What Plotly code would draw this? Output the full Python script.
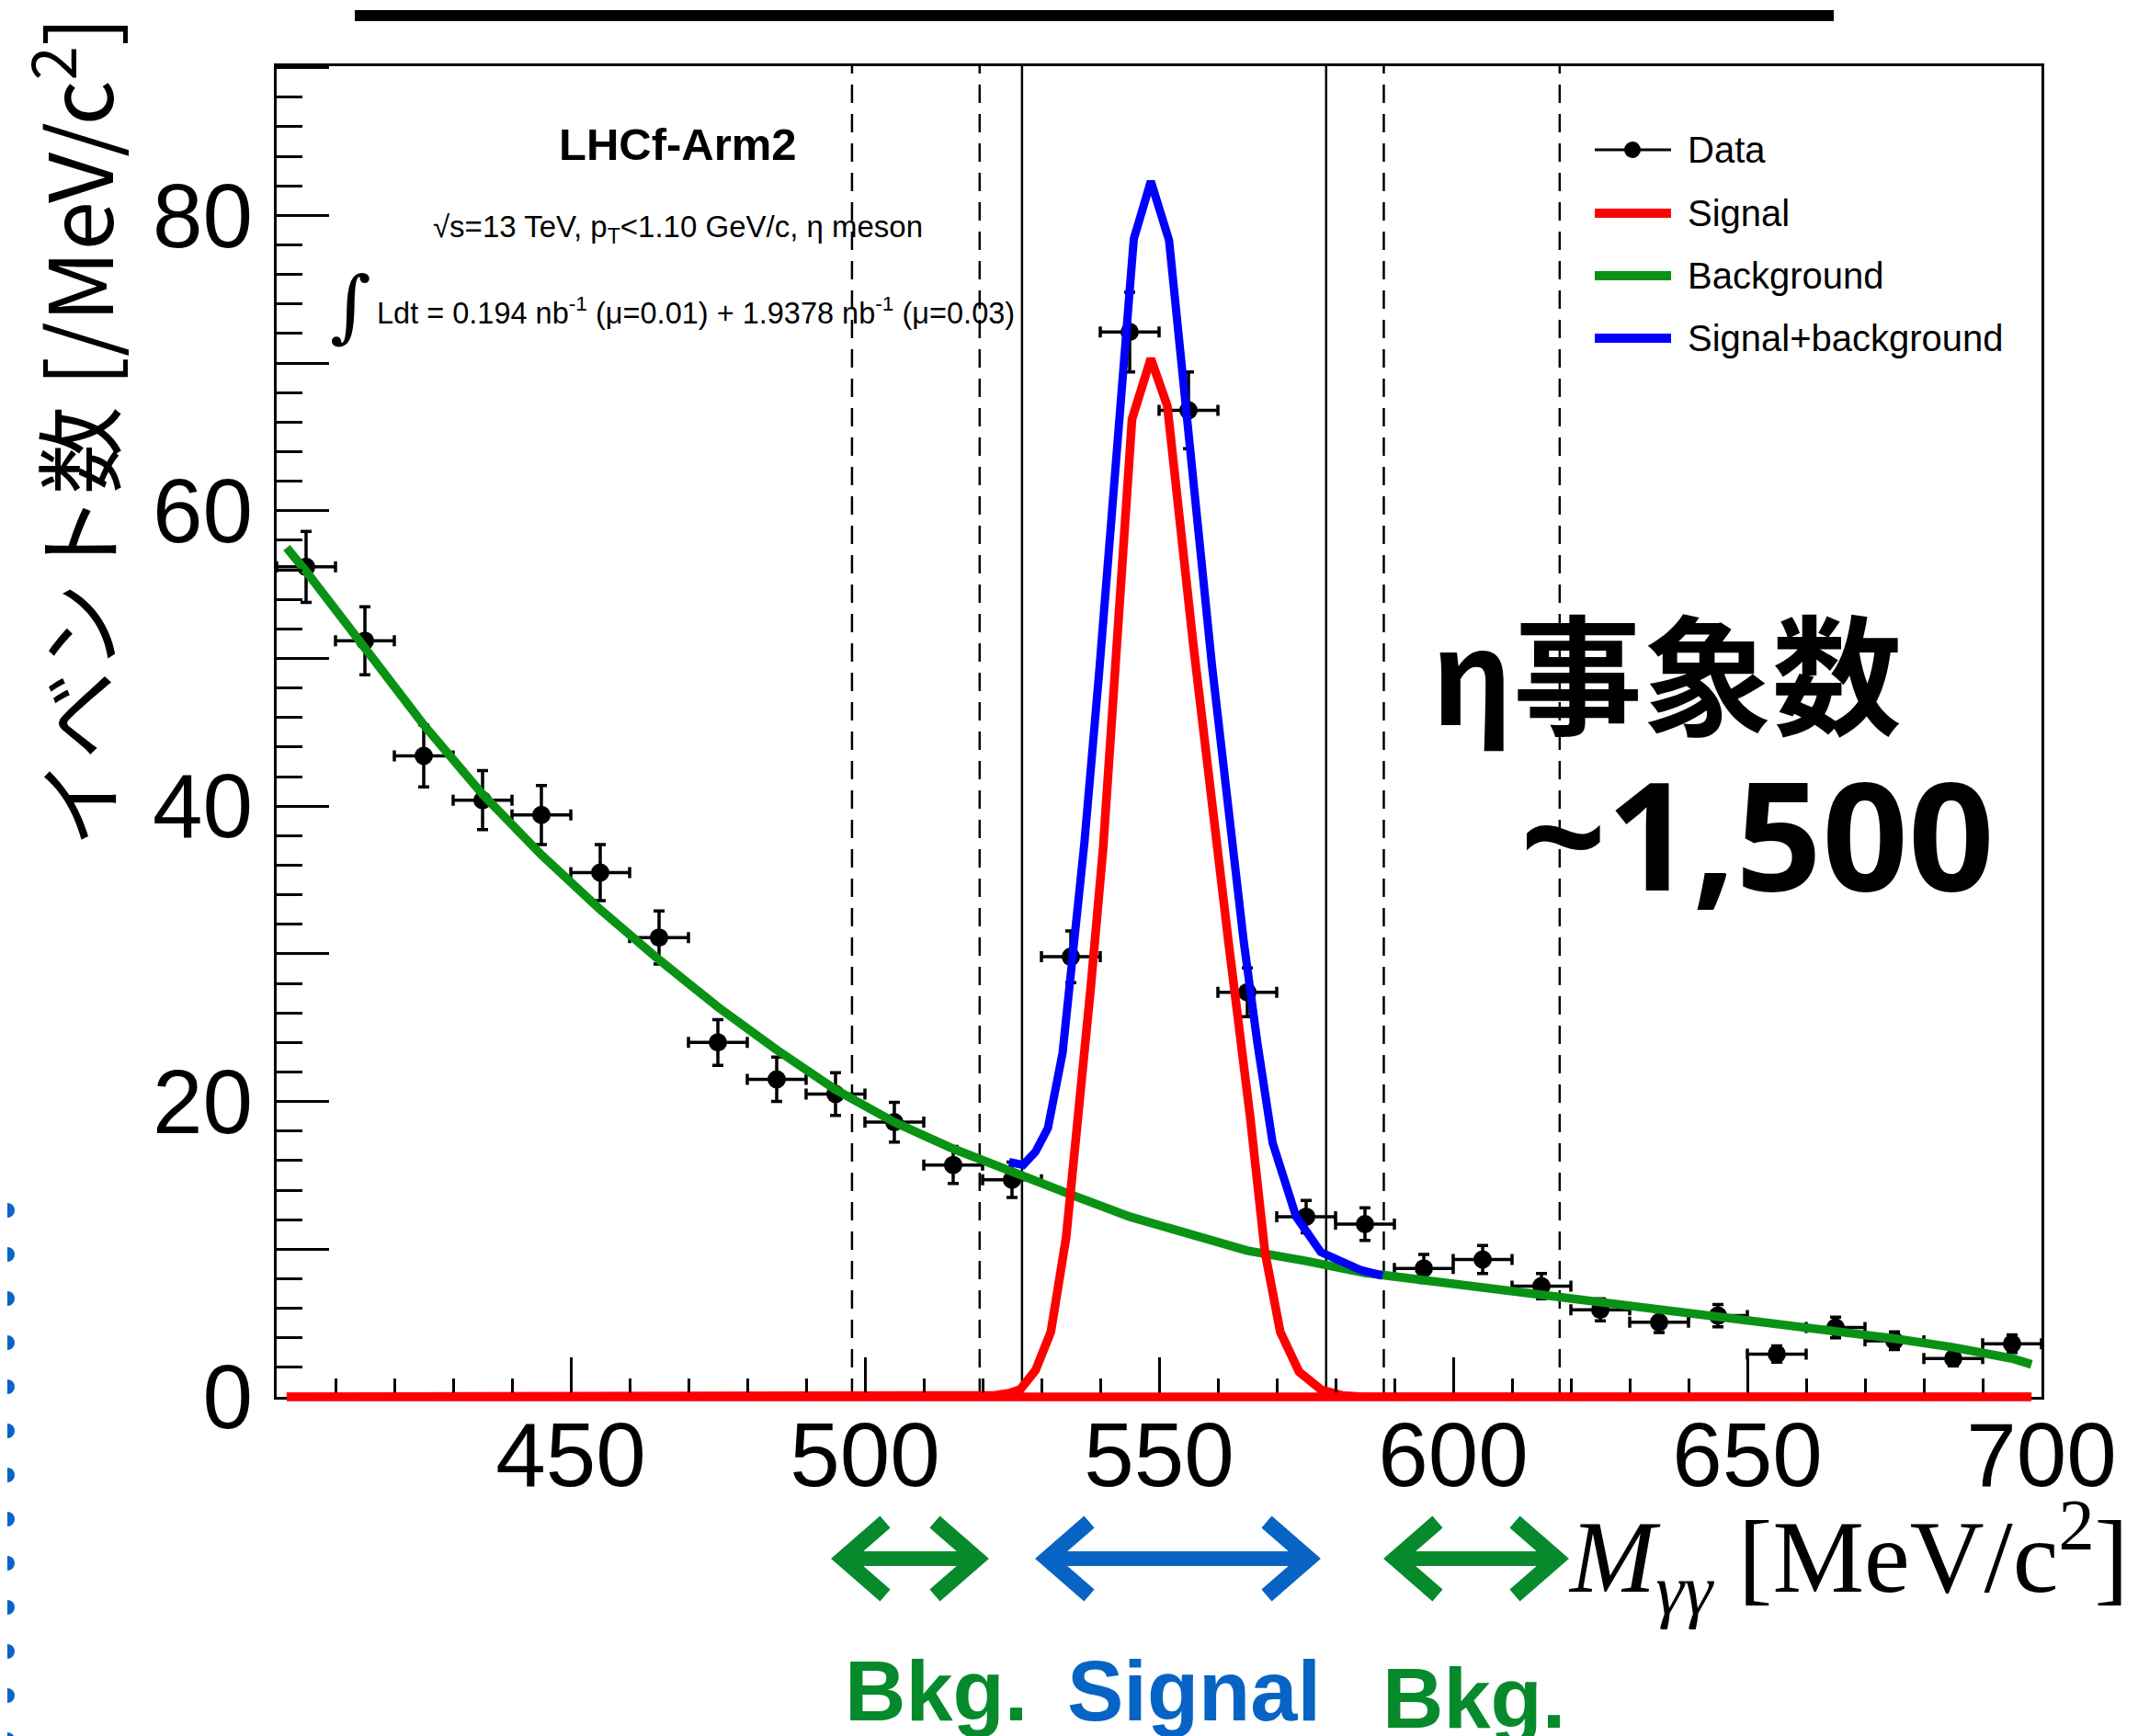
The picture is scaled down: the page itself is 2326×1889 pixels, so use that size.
import plotly.graph_objects as go

# ---------------- data ----------------
bin_centers = [405, 415, 425, 435, 445, 455, 465, 475, 485, 495,
               505, 515, 525, 535, 545, 555, 565, 575, 585, 595,
               605, 615, 625, 635, 645, 655, 665, 675, 685, 695]
counts = [56.2, 51.2, 43.4, 40.4, 39.4, 35.5, 31.1, 24.0, 21.5, 20.5,
          18.6, 15.7, 14.7, 29.8, 72.1, 66.8, 27.4, 12.2, 11.7, 8.7,
          9.3, 7.5, 5.9, 5.05, 5.5, 2.9, 4.7, 3.8, 2.6, 3.6]
count_err = [2.4, 2.3, 2.1, 2.0, 2.0, 1.9, 1.8, 1.55, 1.5, 1.45,
             1.35, 1.25, 1.2, 1.75, 2.7, 2.6, 1.65, 1.1, 1.1, 0.95,
             0.95, 0.85, 0.75, 0.7, 0.75, 0.55, 0.7, 0.6, 0.5, 0.6]
bin_half_width = [5] * 30

bkg_x = [401.7, 405, 415, 425, 435, 445, 455, 465, 475, 485, 495, 505, 515, 525,
         535, 545, 555, 565, 575, 585, 595, 605, 615, 625, 635, 645, 655, 665,
         675, 685, 695, 698.3]
bkg_y = [57.5, 55.9, 50.7, 45.5, 40.8, 36.7, 33.0, 29.6, 26.4, 23.5, 20.8, 18.6, 16.8, 15.2,
         13.7, 12.2, 11.0, 9.9, 9.2, 8.4, 7.9, 7.4, 6.9, 6.45, 5.95, 5.45, 4.95, 4.5,
         3.95, 3.35, 2.6, 2.2]

sig_x = [401.7, 515.0, 519.0, 522.0, 524.5, 526.4, 529.0, 531.6, 534.2, 535.8, 538.4,
         540.5, 542.8, 545.4, 548.6, 551.4, 555.8, 558.7, 561.8, 565.5, 568.0, 570.6,
         573.8, 577.5, 581.1, 585.0, 698.3]
sig_y = [0, 0, 0.02, 0.1, 0.25, 0.5, 1.8, 4.4, 10.8, 16.8, 27.8,
         37.2, 50.5, 66.2, 70.3, 67.1, 51.0, 40.9, 30.8, 18.9, 9.8, 4.4,
         1.7, 0.5, 0.1, 0.0, 0]

sb_x = [524.5, 526.9, 529.0, 531.1, 533.6, 535.3, 537.3, 539.8, 545.7, 548.6, 551.7,
        559.0, 561.8, 564.4, 566.7, 569.3, 573.3, 577.5, 584.2, 588.0]
sb_y = [15.9, 15.7, 16.6, 18.2, 23.3, 29.6, 37.5, 49.0, 78.4, 82.3, 78.3,
        49.5, 39.2, 30.8, 24.0, 17.2, 12.2, 9.8, 8.6, 8.2]

signal_window = [526.7, 578.4]
bkg_window_edges = [497.8, 519.5, 588.2, 618.1]

x_tick_vals = [450, 500, 550, 600, 650, 700]
x_tick_text = ["450", "500", "550", "600", "650", "700"]
y_major_ticks = [0, 10, 20, 30, 40, 50, 60, 70, 80, 90]
y_label_vals = [0, 20, 40, 60, 80]
y_label_text = ["0", "20", "40", "60", "80"]

legend_labels = ["Data", "Signal", "Background", "Signal+background"]

# ---------------- styling ----------------
W, H = 2326, 1889
OFF = 8                      # page body margin of the browser
PL, PT, PW, PH = 301, 72, 1920, 1448   # plot area in screen pixels
L, T = PL - OFF, PT - OFF
R, B = W - L - PW, H - T - PH
RED, GREEN, BLUE = "#ff0000", "#0a9214", "#0000ff"
AGREEN, ABLUE = "#078a2c", "#0864c4"
SANS = "Liberation Sans, Arial, sans-serif"


def px(x):
    return (x - PL) / PW


def py(y):
    return (PT + PH - y) / PH


fig = go.Figure()

fig.add_trace(go.Scatter(
    x=bin_centers, y=counts, mode="markers",
    marker=dict(color="black", size=20),
    error_x=dict(type="data", array=bin_half_width, color="black", thickness=3.5, width=6),
    error_y=dict(type="data", array=count_err, color="black", thickness=3.5, width=6),
    showlegend=False))
fig.add_trace(go.Scatter(x=bkg_x, y=bkg_y, mode="lines",
                         line=dict(color=GREEN, width=9.5), showlegend=False))
fig.add_trace(go.Scatter(x=sig_x, y=sig_y, mode="lines",
                         line=dict(color=RED, width=9.5), showlegend=False))
fig.add_trace(go.Scatter(x=sb_x, y=sb_y, mode="lines",
                         line=dict(color=BLUE, width=9), showlegend=False))
# invisible anchor for the label axis
fig.add_trace(go.Scatter(x=[bin_centers[0]], y=[counts[0]], yaxis="y2", mode="markers",
                         marker=dict(opacity=0), hoverinfo="skip", showlegend=False))

shapes = []
for xv in bkg_window_edges:
    shapes.append(dict(type="line", xref="x", yref="paper", x0=xv, x1=xv, y0=0, y1=1,
                       line=dict(color="black", width=2.5, dash="20px,12px"), layer="below"))
for xv in signal_window:
    shapes.append(dict(type="line", xref="x", yref="paper", x0=xv, x1=xv, y0=0, y1=1,
                       line=dict(color="black", width=2.5), layer="below"))

# zero level of the signal function drawn over the axis line (not clipped)
shapes.append(dict(type="line", xref="x", yref="paper", x0=sig_x[0], x1=sig_x[-1],
                   y0=0, y1=0, line=dict(color=RED, width=9.5), layer="above"))

# top black bar (cut title underline)
shapes.append(dict(type="rect", xref="paper", yref="paper", x0=px(386), x1=px(1995),
                   y0=py(23), y1=py(11), fillcolor="black", line=dict(width=0)))

# blue dotted line on the far left edge
yy = 1317
while yy < H + 10:
    shapes.append(dict(type="circle", xref="paper", yref="paper",
                       x0=px(0), x1=px(16), y0=py(yy + 8), y1=py(yy - 8),
                       fillcolor="#0a64c8", line=dict(width=0)))
    yy += 48

# manual legend
leg_rows = [163, 232, 300, 368]
leg_colors = ["black", RED, GREEN, BLUE]
leg_widths = [3, 10, 10, 10]
annotations = []
for lab, yrow, col, lw in zip(legend_labels, leg_rows, leg_colors, leg_widths):
    shapes.append(dict(type="line", xref="paper", yref="paper", x0=px(1735), x1=px(1818),
                       y0=py(yrow), y1=py(yrow), line=dict(color=col, width=lw)))
    annotations.append(dict(xref="paper", yref="paper", x=px(1834), y=py(yrow), text=lab,
                            xanchor="left", yanchor="middle", showarrow=False,
                            font=dict(family=SANS, size=40, color="black")))
shapes.append(dict(type="circle", xref="paper", yref="paper",
                   x0=px(1776 - 9), x1=px(1776 + 9), y0=py(163 + 9), y1=py(163 - 9),
                   fillcolor="black", line=dict(width=0)))


# double arrows under the axis
def double_arrow(x_left, x_right, yc, color):
    out = [dict(type="line", xref="paper", yref="paper", x0=px(x_left + 14), x1=px(x_right - 14),
                y0=py(yc), y1=py(yc), line=dict(color=color, width=16))]
    for tip, sgn in ((x_left + 12, 1), (x_right - 12, -1)):
        path = "M {a},{b} L {c},{d} L {e},{f}".format(
            a=px(tip + sgn * 46), b=py(yc - 40), c=px(tip), d=py(yc),
            e=px(tip + sgn * 46), f=py(yc + 40))
        out.append(dict(type="path", xref="paper", yref="paper", path=path,
                        line=dict(color=color, width=17)))
    return out


shapes += double_arrow(905, 1075, 1696, AGREEN)
shapes += double_arrow(1127, 1436, 1696, ABLUE)
shapes += double_arrow(1506, 1706, 1696, AGREEN)

# texts
annotations += [
    dict(x=px(737), y=py(157), text="<b>LHCf-Arm2</b>",
         font=dict(family=SANS, size=49, color="black")),
    dict(x=px(737), y=py(249),
         text="√s=13 TeV, p<sub>T</sub><1.10 GeV/c, η meson",
         font=dict(family=SANS, size=33, color="black")),
    dict(x=px(381), y=py(332), text="∫", font=dict(family="DejaVu Serif", size=86, color="black")),
    dict(x=px(408), y=py(338), xanchor="left",
         text="Ldt = 0.194 nb<sup>-1</sup> (μ=0.01) + 1.9378 nb<sup>-1</sup> (μ=0.03)",
         font=dict(family=SANS, size=32.5, color="black")),
    dict(x=px(78), y=py(470), textangle=-90,
         text="イベント数 [/MeV/c<sup>2</sup>]",
         font=dict(family="Noto Sans CJK JP", size=96, color="black")),
    dict(x=px(1813), y=py(727), text="<b>η事象数</b>",
         font=dict(family="Noto Sans CJK JP", size=141, color="black")),
    dict(x=px(1912), y=py(905), text="<b>~1,500</b>",
         font=dict(family="Noto Sans", size=164, color="black")),
    dict(x=px(1704), y=py(1694), xanchor="left",
         text="<i>M</i><sub><i>γγ</i></sub> [MeV/c<sup>2</sup>]",
         font=dict(family="Liberation Serif, Times New Roman, serif", size=112, color="black")),
    dict(x=px(1018), y=py(1840), text="<b>Bkg.</b>",
         font=dict(family=SANS, size=92, color=AGREEN)),
    dict(x=px(1299), y=py(1840), text="<b>Signal</b>",
         font=dict(family=SANS, size=92, color=ABLUE)),
    dict(x=px(1603), y=py(1848), text="<b>Bkg.</b>",
         font=dict(family=SANS, size=92, color=AGREEN)),
]
for a in annotations:
    a.setdefault("xref", "paper")
    a.setdefault("yref", "paper")
    a.setdefault("showarrow", False)
    a.setdefault("xanchor", "center")
    a.setdefault("yanchor", "middle")

fig.update_layout(
    width=W, height=H,
    margin=dict(l=L, r=R, t=T, b=B, pad=0),
    paper_bgcolor="white", plot_bgcolor="white",
    showlegend=False,
    shapes=shapes, annotations=annotations,
    xaxis=dict(range=[400, 700], showgrid=False, zeroline=False,
               showline=True, linecolor="black", linewidth=3, mirror=True,
               ticks="inside", ticklen=43, tickwidth=2.5, tickcolor="black",
               tickmode="array", tickvals=x_tick_vals, ticktext=x_tick_text,
               tickfont=dict(family=SANS, size=98, color="black"),
               ticklabelstandoff=-24,
               minor=dict(ticks="inside", ticklen=20, tickwidth=2.5, tickcolor="black",
                          tickmode="array", tickvals=list(range(400, 701, 10)))),
    yaxis=dict(range=[0, 90.1], showgrid=False, zeroline=False,
               showline=True, linecolor="black", linewidth=3, mirror=True,
               ticks="inside", ticklen=57, tickwidth=2.5, tickcolor="black",
               tickmode="array", tickvals=y_major_ticks, showticklabels=False,
               minor=dict(ticks="inside", ticklen=28, tickwidth=2.5, tickcolor="black",
                          tickmode="array", tickvals=list(range(0, 91, 2)))),
    yaxis2=dict(range=[0, 90.1], overlaying="y", side="left", showgrid=False,
                zeroline=False, showline=False, ticks="",
                tickmode="array", tickvals=y_label_vals, ticktext=y_label_text,
                tickfont=dict(family=SANS, size=98, color="black"),
                ticklabelstandoff=25),
)

fig.write_html("out.html")
